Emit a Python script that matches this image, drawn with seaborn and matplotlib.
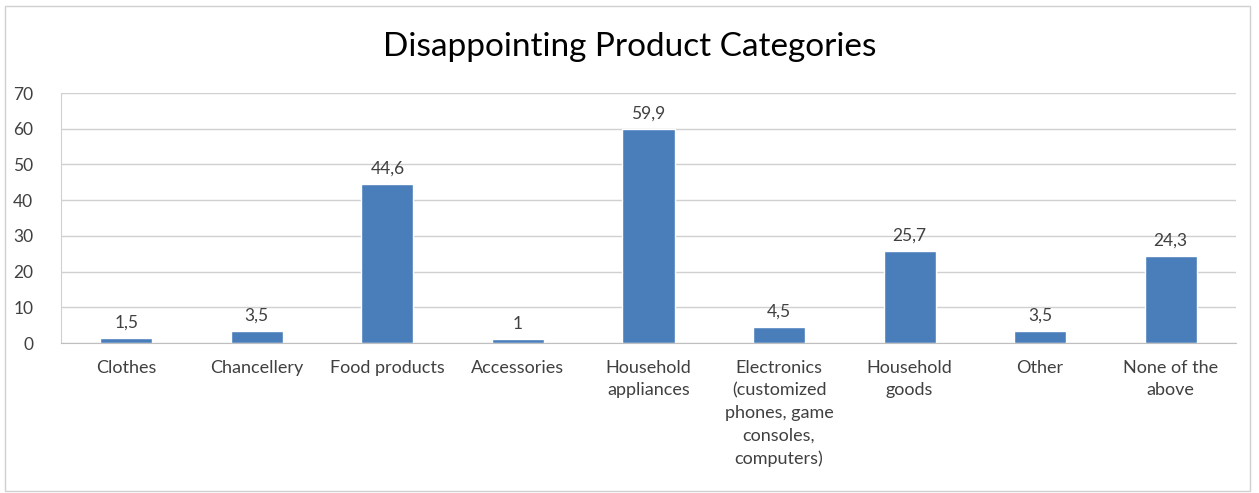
import matplotlib
matplotlib.use("Agg")
import matplotlib.pyplot as plt
from matplotlib.patches import Rectangle
import pandas as pd
import seaborn as sns

# ---------------------------
# Data
# ---------------------------
categories = [
    "Clothes",
    "Chancellery",
    "Food products",
    "Accessories",
    "Household\nappliances",
    "Electronics\n(customized\nphones, game\nconsoles,\ncomputers)",
    "Household\ngoods",
    "Other",
    "None of the\nabove",
]
values = [1.5, 3.5, 44.6, 1, 59.9, 4.5, 25.7, 3.5, 24.3]
y_ticks = [0, 10, 20, 30, 40, 50, 60, 70]

df = pd.DataFrame({"Category": categories, "Value": values})

sns.set_style("white")
plt.rcParams['font.family'] = ['Lato', 'DejaVu Sans']

fig = plt.figure(figsize=(12.59, 4.93), dpi=100)
ax = fig.add_axes([61 / 1259, 1 - 343 / 493, (1236 - 61) / 1259, (343 - 93) / 493])

sns.barplot(data=df, x="Category", y="Value", color="#4A7EBB", width=0.4,
            saturation=1, ax=ax)

# Excel-style data labels with comma decimals
def fmt(v):
    s = f"{v:g}"
    return s.replace(".", ",")

for i, v in enumerate(values):
    ax.text(i, v + 2.0, fmt(v), ha="center", va="bottom", fontsize=12.5, color="#404040")

ax.set_ylim(0, 70)
ax.set_yticks(y_ticks)
ax.set_xlim(-0.5, len(categories) - 0.5)
ax.yaxis.grid(True, color="#D0D0D0", linewidth=1)
ax.set_axisbelow(True)
ax.set_xlabel("")
ax.set_ylabel("")
ax.tick_params(axis="y", length=0, labelsize=12.5, labelcolor="#404040", pad=20)
ax.tick_params(axis="x", length=0, labelsize=13, labelcolor="#404040", pad=12)
for lbl in ax.get_xticklabels():
    lbl.set_linespacing(1.5)

for side in ["top", "right"]:
    ax.spines[side].set_visible(False)
ax.spines["left"].set_color("#D0D0D0")
ax.spines["bottom"].set_color("#BFBFBF")

fig.text(0.5, 1 - 47 / 493, "Disappointing Product Categories", ha="center",
         va="center", fontsize=24, color="#000000")

# light frame around the chart area
fig.patches.append(Rectangle((5 / 1259, 2 / 493), 1245 / 1259, 485 / 493,
                             transform=fig.transFigure, fill=False,
                             edgecolor="#D0D0D0", linewidth=1))

fig.savefig("out.png", dpi=100)
